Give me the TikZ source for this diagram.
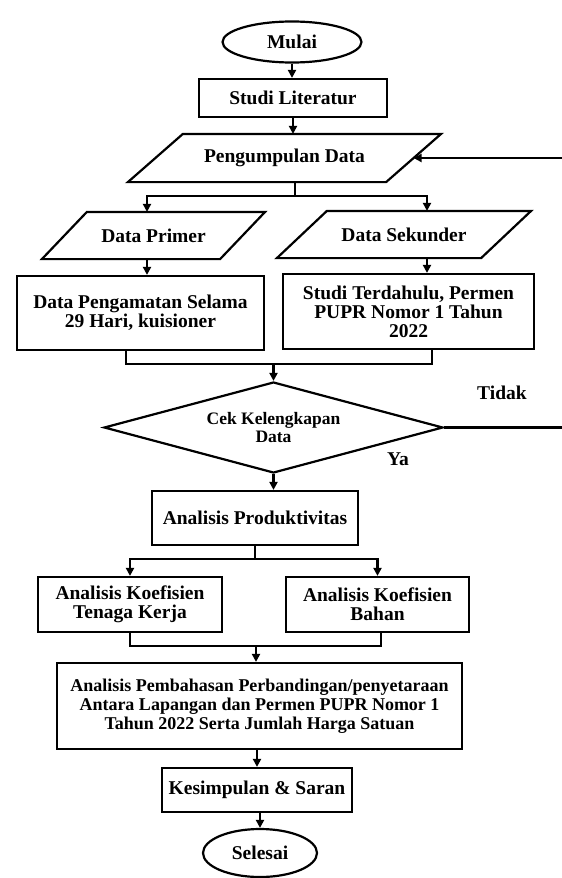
\documentclass[tikz,border=0pt]{standalone}
\usepackage{fontspec}
\setmainfont{Liberation Serif}
\usetikzlibrary{arrows.meta,shapes.geometric}

\begin{document}
\begin{tikzpicture}[x=1pt, y=-1pt, line width=2.2pt,
		font=\bfseries\fontsize{19.5}{19}\selectfont,
		arr/.style={-{Triangle[length=8pt,width=8pt]}},
		kotak/.style={draw, rectangle, inner sep=0pt, align=center},
		oval/.style={draw, ellipse, inner sep=0pt},
		jajar/.style={rectangle, inner sep=0pt},
		belah/.style={draw, diamond, inner sep=0pt, align=center, font=\bfseries\fontsize{17.5}{18.5}\selectfont}]
		%%%%% START %%%%%
		
		\useasboundingbox (0,0) rectangle (562,878);
		\coordinate (kanan) at (562,0);
		
		\node[oval, minimum width=139pt, minimum height=41pt] (mulai) at (292,42) {Mulai};
		\node[kotak, minimum width=188pt, minimum height=38pt] (studi) at (293,98) {Studi Literatur};
		
		\node[jajar, minimum width=311pt, minimum height=46pt] (pengumpulan) at (284.5,158) {Pengumpulan Data};
		\node[jajar, minimum width=221pt, minimum height=45pt] (primer) at (153.5,235.5) {Data Primer};
		\node[jajar, minimum width=252pt, minimum height=45pt] (sekunder) at (404,234.5) {Data Sekunder};
		\foreach \n/\s in {pengumpulan/55, primer/45, sekunder/50}
			\draw ([xshift=\s pt]\n.north west) -- (\n.north east) -- ([xshift=-\s pt]\n.south east) -- (\n.south west) -- cycle;
		
		\node[kotak, minimum width=247pt, minimum height=74pt] (pengamatan) at (140.5,313) {Data Pengamatan Selama\\29 Hari, kuisioner};
		\node[kotak, minimum width=251pt, minimum height=75pt] (terdahulu) at (408.5,311.5) {Studi Terdahulu, Permen\\PUPR Nomor 1 Tahun\\2022};
		
		\node[belah, aspect=3.7, minimum width=339pt, minimum height=91pt] (cek) at (273.5,427.5) {Cek Kelengkapan\\Data};
		\node (tidak) at (502,393) {Tidak};
		\node (ya) at (398,459) {Ya};
		
		\node[kotak, minimum width=206pt, minimum height=54pt] (produktivitas) at (255,518) {Analisis Produktivitas};
		\node[kotak, minimum width=184pt, minimum height=55pt] (tenaga) at (130,604.5) {Analisis Koefisien\\Tenaga Kerja};
		\node[kotak, minimum width=183pt, minimum height=55pt] (bahan) at (377.5,604.5) {Analisis Koefisien\\Bahan};
		\node[kotak, minimum width=405pt, minimum height=86pt, font=\bfseries\fontsize{18}{19}\selectfont] (pembahasan) at (259.5,706) {Analisis Pembahasan Perbandingan/penyetaraan\\Antara Lapangan dan Permen PUPR Nomor 1\\Tahun 2022 Serta Jumlah Harga Satuan};
		\node[kotak, minimum width=190pt, minimum height=44pt] (kesimpulan) at (257,790) {Kesimpulan \& Saran};
		\node[oval, minimum width=114pt, minimum height=48pt] (selesai) at (260,853) {Selesai};
		
		% alur atas
		\draw[arr] (mulai.south) -- (mulai.south |- studi.north);
		\draw[arr] (studi.south) -- (studi.south |- pengumpulan.north);
		\draw ([xshift=10.5pt]pengumpulan.south) -- ++(0,14) coordinate (pisah1);
		\draw[arr] (pisah1) -| ([xshift=-6.5pt]primer.north);
		\draw[arr] (pisah1) -| ([xshift=23pt]sekunder.north);
		\draw[arr] ([xshift=-6.5pt]primer.south) -- ([xshift=-6.5pt]primer.south |- pengamatan.north);
		\draw[arr] ([xshift=23pt]sekunder.south) -- ([xshift=23pt]sekunder.south |- terdahulu.north);
		
		\coordinate (gabung1) at (273.5,364);
		\draw ([xshift=-14.5pt]pengamatan.south) |- (gabung1) -| ([xshift=23.5pt]terdahulu.south);
		\draw[arr] (gabung1) -- (cek.north);
		
		% tidak / ya
		\draw (cek.east) -- (cek.east -| kanan);
		\draw[arr] (pengumpulan.east -| kanan) -- ([xshift=-27.5pt]pengumpulan.east);
		\draw[arr] (cek.south) -- (cek.south |- produktivitas.north);
		
		% alur bawah
		\draw (produktivitas.south) -- ++(0,13) coordinate (pisah2);
		\draw[arr] (pisah2) -| (tenaga.north);
		\draw[arr] (pisah2) -| (bahan.north);
		\coordinate (gabung2) at (256,646);
		\draw (tenaga.south) |- (gabung2) -| ([xshift=3.5pt]bahan.south);
		\draw[arr] (gabung2) -- (gabung2 |- pembahasan.north);
		\draw[arr] (kesimpulan.north |- pembahasan.south) -- (kesimpulan.north);
		\draw[arr] (selesai.north |- kesimpulan.south) -- (selesai.north);
		
		%%%%% END %%%%%
	\end{tikzpicture}
\end{document}
